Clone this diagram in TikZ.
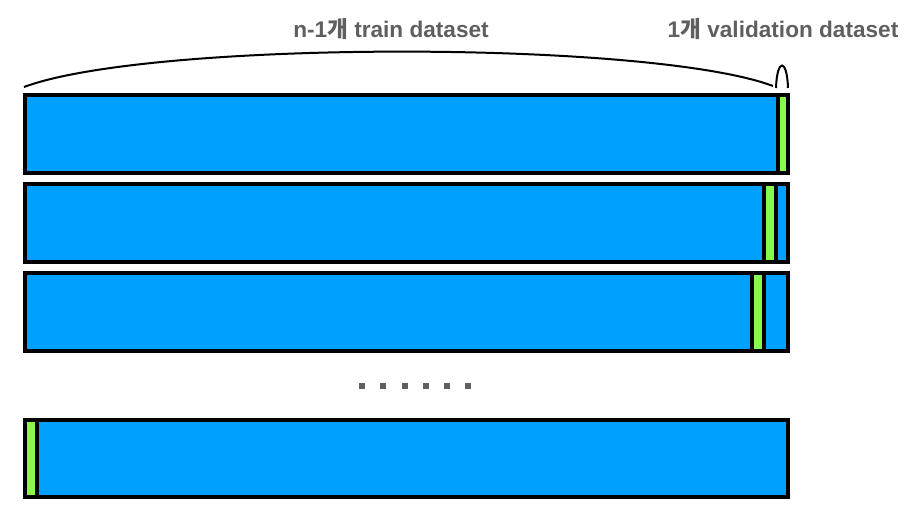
\documentclass[tikz,border=0pt]{standalone}
\usepackage{fontspec}
\setmainfont{Liberation Sans}
\newfontfamily\kr{Noto Sans CJK KR}
\definecolor{barblue}{RGB}{0,160,255}
\definecolor{cellgreen}{RGB}{136,250,76}
\definecolor{txtgray}{RGB}{95,95,95}
\begin{document}
\begin{tikzpicture}[x=1bp,y=-1bp,
  lbl/.style={font=\bfseries\fontsize{22.7}{26}\selectfont, text=txtgray, inner sep=0},
  barframe/.style={draw=black, line width=4bp},
  divider/.style={draw=black, line width=4bp},
  arcline/.style={draw=black, line width=2bp},
  sqdot/.style={fill=txtgray, minimum size=6bp, inner sep=0, draw=none}]
\useasboundingbox (0,0) rectangle (906,512);
% labels
\node[lbl] (train) at (391,29) {n-1{\kr 개} train dataset};
\node[lbl] (val) at (783,29) {1{\kr 개} validation dataset};
% braces
\draw[arcline] (24,87) .. controls (150,40) and (650,40) .. (773,86);
\draw[arcline] (776,88) .. controls (777,58) and (787,58) .. (788,88);
% row 1
\fill[barblue] (25,95) rectangle (788,173);
\fill[cellgreen] (778,95) rectangle (788,173);
\draw[divider] (778,95) -- (778,173);
\draw[barframe] (25,95) rectangle (788,173);
% row 2
\fill[barblue] (25,184) rectangle (788,262);
\fill[cellgreen] (764,184) rectangle (776,262);
\draw[divider] (764,184) -- (764,262);
\draw[divider] (776,184) -- (776,262);
\draw[barframe] (25,184) rectangle (788,262);
% row 3
\fill[barblue] (25,273) rectangle (788,351);
\fill[cellgreen] (752,273) rectangle (764,351);
\draw[divider] (752,273) -- (752,351);
\draw[divider] (764,273) -- (764,351);
\draw[barframe] (25,273) rectangle (788,351);
% dots
\foreach \i/\xx in {1/362,2/383,3/404.5,4/426,5/447,6/468}
  \node[sqdot] (d\i) at (\xx,386) {};
% row 4
\fill[barblue] (25,420) rectangle (788,497);
\fill[cellgreen] (25,420) rectangle (37,497);
\draw[divider] (37,420) -- (37,497);
\draw[barframe] (25,420) rectangle (788,497);
\end{tikzpicture}
\end{document}
